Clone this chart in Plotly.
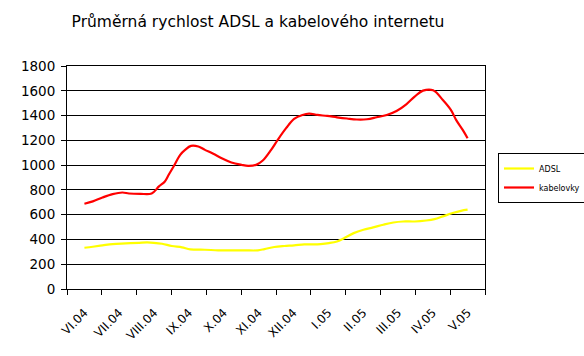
import plotly.graph_objects as go

categories = ["VI.04", "VII.04", "VIII.04", "IX.04", "X.04", "XI.04",
              "XII.04", "I.05", "II.05", "III.05", "IV.05", "V.05"]

# position along the month axis (0 = VI.04 ... 11 = V.05)
kab_x = [0.0, 0.24, 0.52, 0.81, 1.09, 1.28, 1.61, 1.93, 2.14, 2.31, 2.42, 2.56,
         2.75, 2.89, 3.06, 3.27, 3.46, 3.70, 3.94, 4.22, 4.51, 4.70, 4.93, 5.12,
         5.36, 5.55, 5.79, 6.02, 6.26, 6.45, 6.69, 6.97, 7.25, 7.54, 7.82, 8.11,
         8.39, 8.68, 8.96, 9.24, 9.48, 9.72, 10.01, 10.29, 10.52, 10.67, 10.86, 11.0]
kab_y = [688, 707, 739, 766, 779, 771, 768, 771, 828, 868, 922, 989,
         1083, 1123, 1155, 1150, 1123, 1091, 1056, 1021, 1002, 994, 1002, 1037,
         1123, 1204, 1298, 1373, 1405, 1416, 1405, 1397, 1386, 1376, 1368, 1370,
         1386, 1405, 1437, 1491, 1553, 1601, 1604, 1526, 1446, 1365, 1284, 1217]

adsl_x = [0.0, 0.24, 0.52, 0.81, 1.19, 1.57, 1.80, 1.99, 2.23, 2.51, 2.80, 3.04,
          3.46, 3.84, 4.22, 4.60, 4.98, 5.17, 5.45, 5.74, 6.02, 6.31, 6.59, 6.78,
          7.02, 7.25, 7.44, 7.73, 8.01, 8.29, 8.58, 8.87, 9.15, 9.48, 9.81, 10.05,
          10.29, 10.57, 10.81, 11.0]
adsl_y = [333, 341, 352, 363, 368, 373, 376, 373, 365, 347, 336, 320,
          317, 312, 312, 312, 312, 322, 339, 347, 352, 360, 360, 363,
          371, 384, 408, 451, 478, 497, 519, 537, 545, 545, 553, 564,
          586, 613, 631, 640]

y_ticks = [0, 200, 400, 600, 800, 1000, 1200, 1400, 1600, 1800]

fig = go.Figure()
fig.add_trace(go.Scatter(x=adsl_x, y=adsl_y, mode="lines", name="ADSL",
                         line=dict(color="#FFFF00", width=2.2, shape="spline")))
fig.add_trace(go.Scatter(x=kab_x, y=kab_y, mode="lines", name="kabelovky",
                         line=dict(color="#FF0000", width=2.2, shape="spline")))
# invisible trace to carry the boundary tick marks axis
fig.add_trace(go.Scatter(x=[-0.5, 11.5], y=[0, 0], mode="lines", xaxis="x2",
                         line=dict(width=0), showlegend=False, hoverinfo="skip"))

fig.update_layout(
    width=584, height=356,
    margin=dict(l=67, r=95, t=66, b=67),
    paper_bgcolor="white", plot_bgcolor="white",
    font=dict(family="DejaVu Sans, Verdana, sans-serif", color="black"),
    title=dict(text="Průměrná rychlost ADSL a kabelového internetu",
               x=258 / 584, xanchor="center", y=1 - 22 / 356, yanchor="middle",
               font=dict(family="DejaVu Sans, Verdana, sans-serif", size=15.5, color="black")),
    xaxis=dict(range=[-0.5, 11.5], tickvals=list(range(len(categories))),
               ticktext=categories, tickangle=-45, ticks="", showgrid=False,
               showline=True, linecolor="black", linewidth=1, mirror=True,
               zeroline=False, ticklabelstandoff=11,
               tickfont=dict(size=12, family="DejaVu Sans, Verdana, sans-serif")),
    xaxis2=dict(range=[-0.5, 11.5], overlaying="x", anchor="y", side="bottom",
                tickvals=[i - 0.5 for i in range(len(categories) + 1)],
                ticks="outside", ticklen=5, tickcolor="black", tickwidth=1,
                showticklabels=False, showgrid=False, zeroline=False, showline=False),
    yaxis=dict(range=[0, 1800], tickvals=y_ticks, ticks="outside", ticklen=5,
               tickcolor="black", showgrid=True, gridcolor="black", gridwidth=1,
               showline=True, linecolor="black", linewidth=1, mirror=True,
               zeroline=False, ticklabelstandoff=3,
               tickfont=dict(size=13.5, family="DejaVu Sans, Verdana, sans-serif")),
    legend=dict(x=498 / 584, y=1 - 178 / 356, xanchor="left", yanchor="middle",
                xref="container", yref="container",
                bordercolor="black", borderwidth=1, bgcolor="white",
                font=dict(size=8, family="DejaVu Sans, Verdana, sans-serif"),
                tracegroupgap=0, itemwidth=30),
    showlegend=True,
)

fig.write_html("out.html")
